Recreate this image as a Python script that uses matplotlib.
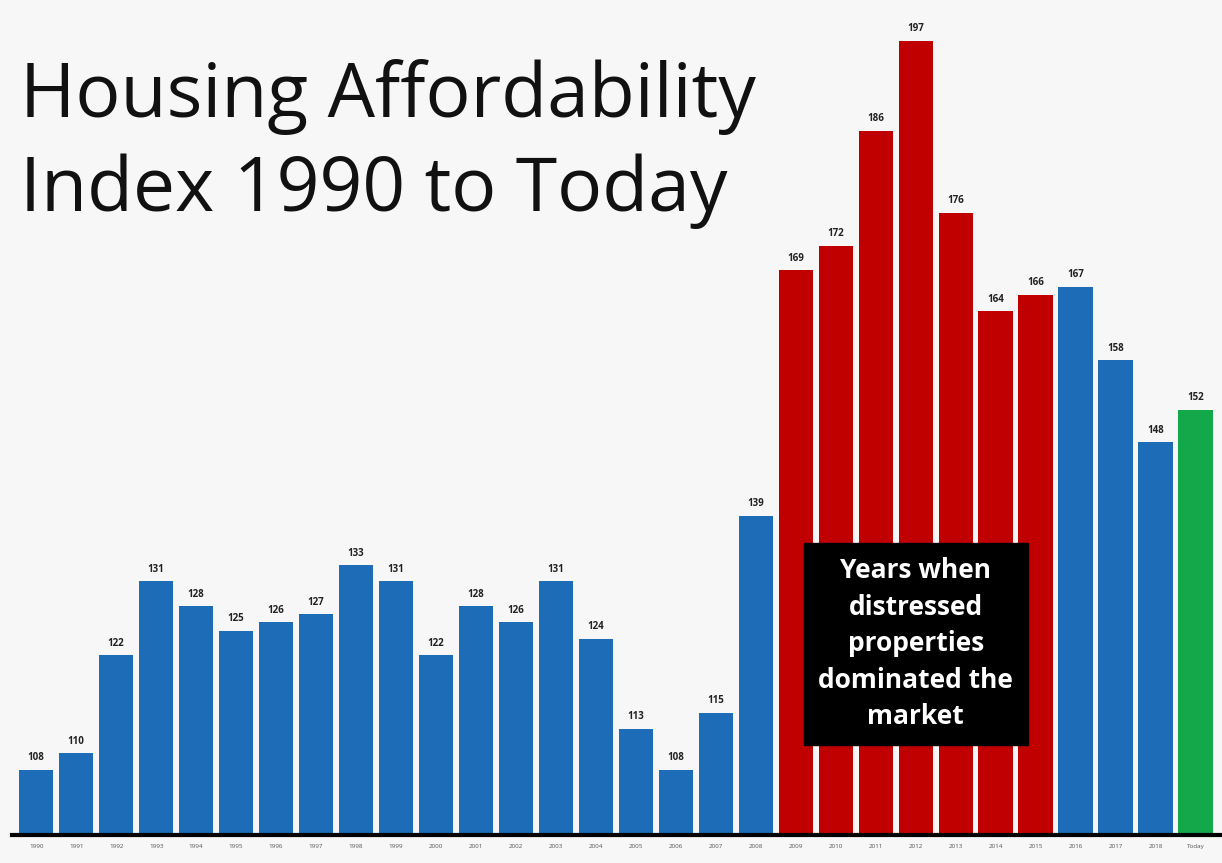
import matplotlib.pyplot as plt
import numpy as np

anios = [str(a) for a in range(1990, 2019)] + ['Today']
indice = [108, 110, 122, 131, 128, 125, 126, 127, 133, 131,
          122, 128, 126, 131, 124, 113, 108, 115, 139, 169,
          172, 186, 197, 176, 164, 166, 167, 158, 148, 152]
# color por tipo de año
tipo = ['normal'] * 19 + ['distressed'] * 7 + ['normal'] * 3 + ['today']

COLORES = {'normal': '#1c6cb8', 'distressed': '#c00000', 'today': '#13a84a'}
FONDO = '#f7f7f7'

plt.rcParams['font.family'] = ['Open Sans', 'DejaVu Sans']

fig = plt.figure(figsize=(12.22, 8.63), dpi=100, facecolor=FONDO)
ax = fig.add_axes([0.01, 0.032, 0.988, 0.968])
ax.set_facecolor(FONDO)

x = np.arange(len(indice))
colores = [COLORES[t] for t in tipo]
ax.bar(x, indice, width=0.86, color=colores)

ax.set_ylim(100, 202)
ax.set_xlim(-0.6, len(indice) - 0.4)

for xi, v in zip(x, indice):
    ax.text(xi, v + 0.8, str(v), ha='center', va='bottom', fontsize=7,
            fontweight='bold', color='#222222')

for s in ['top', 'right', 'left']:
    ax.spines[s].set_visible(False)
ax.spines['bottom'].set_linewidth(3)
ax.spines['bottom'].set_color('black')
ax.set_yticks([])
ax.set_xticks(x)
ax.set_xticklabels(anios, fontsize=4.5, color='#555555')
ax.tick_params(axis='x', length=0, pad=6)

fig.text(0.016, 0.833, 'Housing Affordability\nIndex 1990 to Today', fontsize=54,
         color='#111111', ha='left', va='center', linespacing=1.33)

ax.text(22.0, 123.4, 'Years when\ndistressed\nproperties\ndominated the\nmarket',
        ha='center', va='center', fontsize=19, fontweight='bold', color='white',
        linespacing=1.45,
        bbox=dict(boxstyle='square,pad=0.55', facecolor='black', edgecolor='black'))

fig.savefig('out.png', dpi=100, facecolor=FONDO)
